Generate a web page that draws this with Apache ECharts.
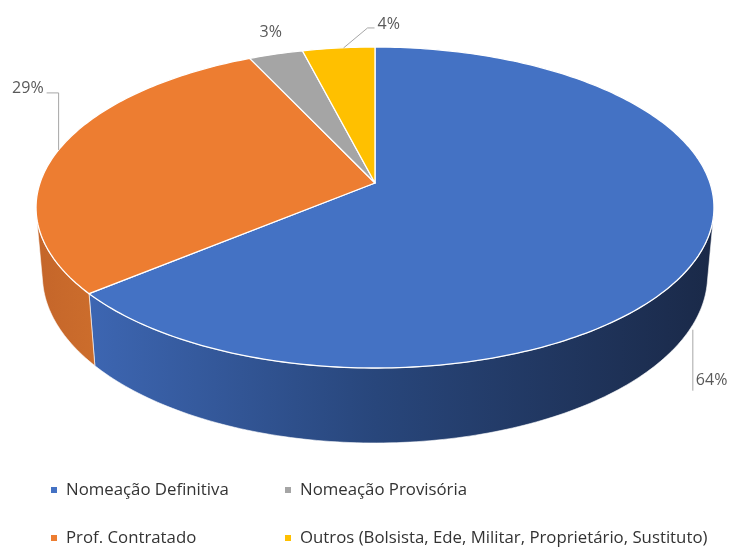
<!DOCTYPE html>
<html>
<head>
<meta charset="utf-8">
<script src="https://cdn.jsdelivr.net/npm/echarts@6/dist/echarts.min.js"></script>
<style>
  html, body { margin: 0; padding: 0; background: #ffffff; }
  #chart { width: 729px; height: 547px; }
</style>
</head>
<body>
<div id="chart"></div>
<script>
// Vínculo dos professores (percentual)
const categories = [
  'Nomeação Definitiva',
  'Prof. Contratado',
  'Nomeação Provisória',
  'Outros (Bolsista, Ede, Militar, Proprietário, Sustituto)'
];
const shares = [64, 29, 3, 4];

const sliceColors = ['#4472c4', '#ed7d31', '#a5a5a5', '#ffc000'];
const wallShades = [
  ['#3d66b2', '#28467b', '#1a2948'],
  ['#c4652a', '#c8692b', '#cc6d2c'],
  ['#8a8a8a', '#7c7c7c', '#6e6e6e'],
  ['#d9a300', '#c99700', '#b88a00']
];

const total = shares.reduce((a, b) => a + b, 0);

// Perspective camera looking down on a flat cylinder of radius 1
const VIEW = { cx: 375, cy: 183, focal: 1938.6, dist: 5.787, elev: 27.9 * Math.PI / 180, depth: 0.231 };
const sinE = Math.sin(VIEW.elev), cosE = Math.cos(VIEW.elev);

// theta: clockwise from the back of the disc; level: 0 = top face, VIEW.depth = bottom face
function project(theta, level) {
  const X = Math.sin(theta), Z = -Math.cos(theta);
  const den = VIEW.dist + level * sinE - Z * cosE;
  return [VIEW.cx + VIEW.focal * X / den, VIEW.cy + VIEW.focal * (level * cosE + Z * sinE) / den];
}
function arc(a0, a1, level) {
  const n = Math.max(2, Math.ceil((a1 - a0) / (Math.PI / 180)));
  const pts = [];
  for (let k = 0; k <= n; k++) pts.push(project(a0 + (a1 - a0) * k / n, level));
  return pts;
}
// the side wall faces the camera only between these angles
const wallLimit = Math.acos(-1 / (VIEW.dist * cosE));

// percentage labels: anchor on the slice rim, leader path and text offset
const labelLayouts = [
  { level: 'bottom', leader: [[0, 5], [0, 66]], at: [3, 56], align: 'left' },
  { level: 'top', leader: [[0, 0], [0, -57], [-12, -57]], at: [-15, -61], align: 'right' },
  { level: 'top', leader: null, at: [-5, -22], align: 'center' },
  { level: 'top', leader: [[5, 0], [29, -20], [36, -20]], at: [39, -24], align: 'left' }
];

function renderSlice(params, api) {
  const i = params.seriesIndex;
  const before = shares.slice(0, i).reduce((a, b) => a + b, 0);
  const value = api.value(0);
  const a0 = before / total * 2 * Math.PI;
  const a1 = (before + value) / total * 2 * Math.PI;
  const children = [];

  const w0 = Math.max(a0, wallLimit), w1 = Math.min(a1, 2 * Math.PI - wallLimit);
  if (w1 > w0) {
    const pts = arc(w0, w1, 0).concat(arc(w0, w1, VIEW.depth).reverse());
    const sh = wallShades[i];
    children.push({
      type: 'polygon', z2: 1,
      shape: { points: pts },
      style: {
        fill: new echarts.graphic.LinearGradient(0, 0, 1, 0, [
          { offset: 0, color: sh[0] }, { offset: 0.46, color: sh[1] }, { offset: 1, color: sh[2] }
        ]),
        stroke: 'rgba(255,255,255,0.6)', lineWidth: 1
      }
    });
  }

  const topPts = [[VIEW.cx, VIEW.cy]].concat(arc(a0, a1, 0));
  children.push({
    type: 'polygon', z2: 10,
    shape: { points: topPts },
    style: { fill: sliceColors[i], stroke: '#ffffff', lineWidth: 1.3, lineJoin: 'round' }
  });

  const lay = labelLayouts[i];
  const mid = (a0 + a1) / 2;
  const anchor = project(mid, lay.level === 'bottom' ? VIEW.depth : 0);
  if (lay.leader) {
    children.push({
      type: 'polyline', z2: 20,
      shape: { points: lay.leader.map(p => [anchor[0] + p[0], anchor[1] + p[1]]) },
      style: { stroke: '#a6a6a6', lineWidth: 1, fill: null }
    });
  }
  children.push({
    type: 'text', z2: 30,
    x: anchor[0] + lay.at[0], y: anchor[1] + lay.at[1],
    style: {
      text: Math.round(value / total * 100) + '%',
      fill: '#595959', fontSize: 16, fontFamily: '"Open Sans", sans-serif',
      align: lay.align, verticalAlign: 'middle'
    }
  });
  return { type: 'group', children };
}

const legendSlots = [
  { name: categories[0], left: 51, top: 481 },
  { name: categories[2], left: 285, top: 481 },
  { name: categories[1], left: 51, top: 529 },
  { name: categories[3], left: 285, top: 529 }
];

const chart = echarts.init(document.getElementById('chart'), null, { renderer: 'canvas' });
chart.setOption({
  animation: false,
  backgroundColor: '#ffffff',
  legend: legendSlots.map(s => ({
    data: [s.name], left: s.left, top: s.top, padding: 0,
    icon: 'rect', itemWidth: 6, itemHeight: 6, selectedMode: false,
    textStyle: { fontSize: 16.8, fontFamily: '"Open Sans", sans-serif', color: '#333333', lineHeight: 18, padding: [0, 0, 0, 4] }
  })),
  series: categories.map((name, i) => ({
    type: 'custom', name, coordinateSystem: 'none', silent: true,
    itemStyle: { color: sliceColors[i] },
    data: [[shares[i]]],
    renderItem: renderSlice
  }))
});
</script>
</body>
</html>
